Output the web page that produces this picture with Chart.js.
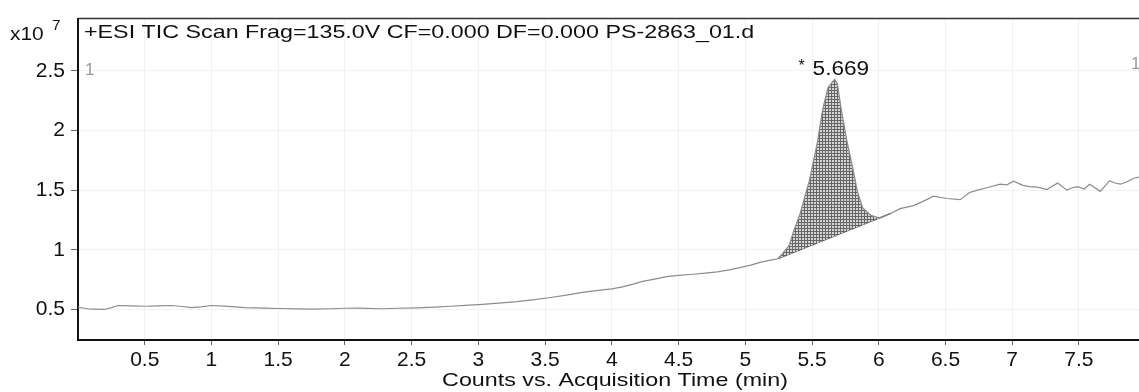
<!DOCTYPE html>
<html>
<head>
<meta charset="utf-8">
<script src="https://cdn.jsdelivr.net/npm/chart.js@4.4.1/dist/chart.umd.min.js"></script>
<style>
  html, body { margin: 0; padding: 0; background: #fff; }
</style>
</head>
<body>
<canvas id="tic" width="1139" height="392"></canvas>
<script>
// TIC trace: acquisition time (min) and counts in units of 1e7
const timeMin = [
  0.00, 0.05, 0.10, 0.20, 0.25, 0.30, 0.40, 0.50, 0.60, 0.70,
  0.78, 0.85, 0.92, 1.00, 1.10, 1.25, 1.40, 1.50, 1.65, 1.75,
  1.90, 2.00, 2.10, 2.28, 2.40, 2.54, 2.68, 2.79, 2.90, 3.03,
  3.15, 3.29, 3.42, 3.54, 3.66, 3.78, 3.90, 4.00, 4.08, 4.16,
  4.23, 4.32, 4.41, 4.50, 4.61, 4.70, 4.79, 4.88, 4.96, 5.04,
  5.11, 5.18, 5.245, 5.28, 5.33, 5.36, 5.41, 5.48, 5.54, 5.58,
  5.62, 5.669, 5.69, 5.72, 5.76, 5.81, 5.84, 5.88, 5.94, 6.01,
  6.09, 6.16, 6.26, 6.34, 6.41, 6.51, 6.61, 6.68, 6.74, 6.81,
  6.91, 6.96, 7.01, 7.08, 7.13, 7.19, 7.26, 7.34, 7.41, 7.45,
  7.49, 7.54, 7.58, 7.66, 7.73, 7.77, 7.81, 7.86, 7.91, 7.95
];
const countsE7 = [
  0.519, 0.510, 0.502, 0.500, 0.515, 0.533, 0.530, 0.527, 0.530, 0.533,
  0.525, 0.516, 0.522, 0.533, 0.528, 0.516, 0.512, 0.508, 0.505, 0.502,
  0.506, 0.510, 0.512, 0.506, 0.510, 0.514, 0.520, 0.527, 0.534, 0.543,
  0.553, 0.566, 0.582, 0.600, 0.620, 0.643, 0.660, 0.672, 0.690, 0.712,
  0.735, 0.755, 0.775, 0.785, 0.795, 0.805, 0.815, 0.832, 0.850, 0.872,
  0.895, 0.912, 0.925, 0.970, 1.040, 1.150, 1.300, 1.580, 1.900, 2.180,
  2.360, 2.430, 2.390, 2.170, 1.920, 1.660, 1.490, 1.350, 1.290, 1.265,
  1.305, 1.345, 1.370, 1.410, 1.450, 1.430, 1.420, 1.480, 1.500, 1.520,
  1.550, 1.545, 1.575, 1.540, 1.530, 1.525, 1.505, 1.560, 1.500, 1.520,
  1.530, 1.510, 1.550, 1.490, 1.580, 1.560, 1.550, 1.570, 1.600, 1.610
];

// integrated peak: apex and integration limits (all on the trace)
const peakApex = 5.669;
const peakStart = 5.245;
const peakEnd = 6.09;

const xTicks = [0.5, 1, 1.5, 2, 2.5, 3, 3.5, 4, 4.5, 5, 5.5, 6, 6.5, 7, 7.5];
const yTicks = [0.5, 1, 1.5, 2, 2.5];
const traceTitle = "+ESI TIC Scan Frag=135.0V CF=0.000 DF=0.000 PS-2863_01.d";
const xTitle = "Counts vs. Acquisition Time (min)";

const FONT = '"Liberation Sans", Arial, sans-serif';
const STRETCH = 1.225; // the instrument font runs wide

const trace = timeMin.map((t, i) => ({ x: t, y: countsE7[i] }));
const iStart = timeMin.indexOf(peakStart);
const iEnd = timeMin.indexOf(peakEnd);
const iApex = timeMin.indexOf(peakApex);
const peakPts = trace.slice(iStart, iEnd + 1);
const baseline = [trace[iStart], trace[iEnd]];

// fine crosshatch used for the integrated area
function makeHatch(ctx) {
  const c = document.createElement("canvas");
  c.width = 3; c.height = 3;
  const g = c.getContext("2d");
  g.fillStyle = "#d4d4d4";
  g.fillRect(0, 0, 3, 3);
  g.fillStyle = "#666";
  g.fillRect(0, 0, 3, 1);
  g.fillRect(0, 0, 1, 3);
  return ctx.createPattern(c, "repeat");
}

// text drawn with a horizontal stretch; align is "left" or "center"
function wideText(ctx, text, x, y, size, sx, align) {
  ctx.save();
  ctx.font = size + "px " + FONT;
  ctx.textAlign = align || "left";
  ctx.translate(x, y);
  ctx.scale(sx, 1);
  ctx.fillText(text, 0, 0);
  ctx.restore();
}

const canvas = document.getElementById("tic");
const ctx = canvas.getContext("2d");

/* frame top edge, header text, axis title and peak label */
const annotate = {
  id: "annotate",
  afterDraw(chart) {
    const { ctx, chartArea: a, scales: { x, y } } = chart;
    ctx.save();
    ctx.strokeStyle = "#333";
    ctx.lineWidth = 1.5;
    ctx.beginPath();
    ctx.moveTo(a.left, a.top);
    ctx.lineTo(a.right, a.top);
    ctx.stroke();

    ctx.fillStyle = "#111";
    ctx.textBaseline = "alphabetic";
    wideText(ctx, traceTitle, a.left + 6, 38, 19, STRETCH);
    wideText(ctx, "x10", 10, 40, 19, 1.1);
    wideText(ctx, "7", 52, 30, 14, 1.1);
    wideText(ctx, xTitle, 615, 386, 19, STRETCH, "center");

    // channel markers
    ctx.fillStyle = "#999";
    wideText(ctx, "1", a.left + 7, 75, 17, 1);
    wideText(ctx, "1", a.right - 8, 69, 17, 1);

    // apex label
    const px = x.getPixelForValue(peakApex);
    const py = y.getPixelForValue(countsE7[iApex]);
    ctx.fillStyle = "#111";
    wideText(ctx, "5.669", px - 22, py - 4, 20, 1.13);
    wideText(ctx, "*", px - 36, py - 8, 16, 1);
    ctx.restore();
  }
};

new Chart(ctx, {
  type: "line",
  data: {
    datasets: [
      {
        data: trace,
        borderColor: "#8c8c8c",
        borderWidth: 1.2,
        pointRadius: 0,
        tension: 0,
        fill: false
      },
      {
        data: peakPts,
        borderWidth: 0,
        borderColor: "rgba(0,0,0,0)",
        pointRadius: 0,
        tension: 0,
        backgroundColor: makeHatch(ctx),
        fill: 2
      },
      {
        data: baseline,
        borderColor: "#555",
        borderWidth: 1.2,
        pointRadius: 0,
        fill: false
      }
    ]
  },
  options: {
    responsive: false,
    animation: false,
    devicePixelRatio: 1,
    layout: { padding: { top: 14, left: 0, right: 0, bottom: 0 } },
    plugins: {
      legend: { display: false },
      tooltip: { enabled: false }
    },
    scales: {
      x: {
        type: "linear",
        min: 0,
        max: 7.95,
        afterBuildTicks: s => { s.ticks = xTicks.map(v => ({ value: v })); },
        afterFit: s => { s.height = 52; },
        grid: { color: "#f1f1f1", tickColor: "#666", tickLength: 5, lineWidth: 1 },
        border: { display: true, color: "#111", width: 2 },
        ticks: {
          color: "#111",
          font: { family: FONT, size: 21 },
          padding: 3,
          maxRotation: 0,
          autoSkip: false,
          callback: v => String(v)
        }
      },
      y: {
        type: "linear",
        min: 0.244,
        max: 2.938,
        afterBuildTicks: s => { s.ticks = yTicks.map(v => ({ value: v })); },
        afterFit: s => { s.width = 78; },
        grid: { color: "#f1f1f1", tickColor: "#666", tickLength: 7, lineWidth: 1 },
        border: { display: true, color: "#111", width: 2 },
        ticks: {
          color: "#111",
          font: { family: FONT, size: 21 },
          padding: 6,
          callback: v => String(v)
        }
      }
    }
  },
  plugins: [annotate]
});
</script>
</body>
</html>
